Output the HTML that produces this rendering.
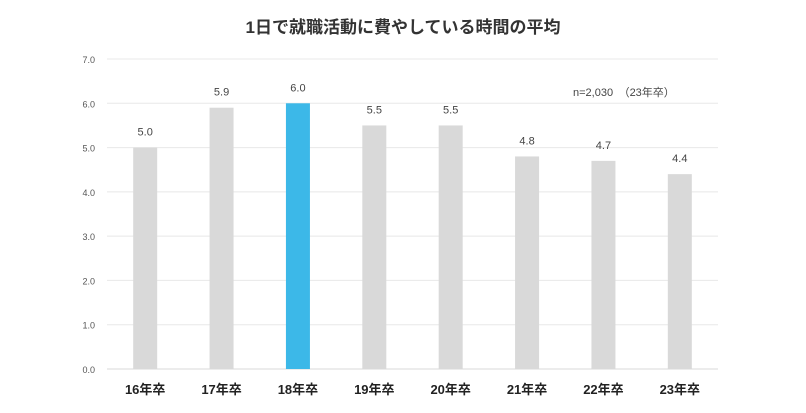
<!DOCTYPE html>
<html><head><meta charset="utf-8"><style>
body{margin:0;background:#fff;width:806px;height:408px;overflow:hidden;font-family:"Liberation Sans","Noto Sans CJK JP",sans-serif}
</style></head><body>
<svg width="806" height="408" id="c" xmlns="http://www.w3.org/2000/svg">
<text x="403" y="33" text-anchor="middle" font-size="17" font-weight="bold" fill="#333">1日で就職活動に費やしている時間の平均</text>
<text x="573" y="96" font-size="11" fill="#444">n=2,030　（23年卒）</text>
</svg>
<script>
const categories=["16年卒","17年卒","18年卒","19年卒","20年卒","21年卒","22年卒","23年卒"];
const values=[5.0,5.9,6.0,5.5,5.5,4.8,4.7,4.4];
const ticks=[0,1,2,3,4,5,6,7];
const highlight=2;
const svg=document.getElementById('c');
const NS='http://www.w3.org/2000/svg';
const L=107,R=718,Y0=369,Y7=59;
const y=v=>Y0-(v/7)*(Y0-Y7);
const step=(R-L)/categories.length;
const x=i=>L+step*(i+0.5);
function mk(t,a){const e=document.createElementNS(NS,t);for(const k in a)e.setAttribute(k,a[k]);svg.appendChild(e);return e;}
ticks.forEach(t=>{
 const g=mk('line',{x1:L,x2:R,y1:y(t),y2:y(t),stroke:t===0?'#d9d9d9':'#e8e8e8','stroke-width':1});
 
 
 const tx=mk('text',{x:95,y:y(t)+4,'text-anchor':'end','font-size':9,fill:'#555'});
 tx.textContent=t.toFixed(1);
 
 
});
values.forEach((v,i)=>{
 const b=mk('rect',{x:x(i)-12,y:y(v),width:24,height:Y0-y(v),fill:i===highlight?'#3cb8e8':'#d9d9d9'});
 
 
 const l=mk('text',{x:x(i),y:y(v)-12,'text-anchor':'middle','font-size':11,fill:'#444'});
 l.textContent=v.toFixed(1);
 
 
 const c=mk('text',{x:x(i),y:394,'text-anchor':'middle','font-size':13,'font-weight':'bold',fill:'#222'});
 c.textContent=categories[i];
 
 
});
</script>
</body></html>
